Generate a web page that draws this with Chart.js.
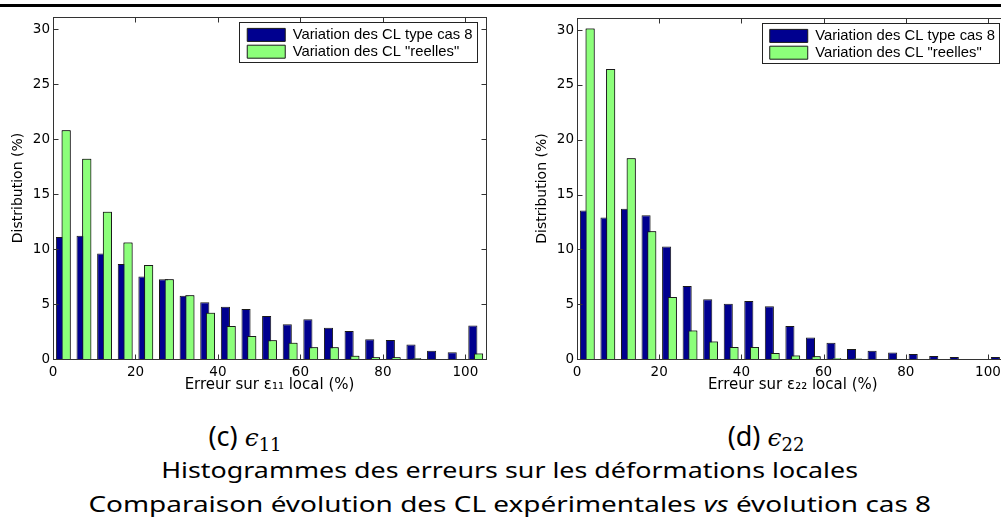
<!DOCTYPE html>
<html>
<head>
<meta charset="utf-8">
<script src="https://cdn.jsdelivr.net/npm/chart.js@4.4.0/dist/chart.umd.min.js"></script>
<style>
html,body{margin:0;padding:0;background:#fff;}
body{width:1001px;height:527px;overflow:hidden;position:relative;}
#rule{position:absolute;left:0;top:4px;width:1001px;height:3px;background:#000;}
.cw{position:absolute;top:0;width:500px;height:400px;}
#w1{left:0;}
#w2{left:524px;}
.sub{position:absolute;top:417px;height:40px;text-align:center;font-family:"Noto Sans";font-size:27px;color:#000;line-height:38px;white-space:nowrap;}
.m{font-family:"DejaVu Serif";font-style:italic;font-size:25px;}
.m sub{font-style:normal;font-family:"DejaVu Serif";font-size:18px;vertical-align:-5px;}
#titles{position:absolute;left:0;width:1001px;top:452px;text-align:center;font-family:"Noto Sans";font-size:22px;line-height:34px;color:#000;white-space:nowrap;padding-left:18px;box-sizing:border-box;}
#titles div{display:inline-block;transform-origin:50% 50%;}
#t1{transform:scaleX(1.22);}
#t2{transform:scaleX(1.27);}
</style>
</head>
<body>
<div id="rule"></div>
<div class="cw" id="w1"><canvas id="c1" width="500" height="400"></canvas></div>
<div class="cw" id="w2"><canvas id="c2" width="500" height="400"></canvas></div>
<div class="sub" style="left:0;width:490px;">(c) <span class="m">ϵ<sub>11</sub></span></div>
<div class="sub" style="left:531px;width:470px;">(d) <span class="m">ϵ<sub>22</sub></span></div>
<div id="titles"><div id="t1">Histogrammes des erreurs sur les déformations locales</div><br><div id="t2">Comparaison évolution des CL expérimentales <i>vs</i> évolution cas 8</div></div>
<script>
const binCenters = [2.5,7.5,12.5,17.5,22.5,27.5,32.5,37.5,42.5,47.5,52.5,57.5,62.5,67.5,72.5,77.5,82.5,87.5,92.5,97.5,102.5];
const seriesNames = ['Variation des CL type cas 8', 'Variation des CL "reelles"'];
const e11Cas8 = [11.1,11.2,9.6,8.65,7.5,7.25,5.75,5.15,4.75,4.55,3.9,3.15,3.62,2.85,2.55,1.8,1.72,1.32,0.75,0.62,3.05];
const e11Reel = [20.8,18.2,13.4,10.6,8.55,7.25,5.8,4.2,3.0,2.1,1.7,1.48,1.06,1.06,0.3,0.17,0.17,0.06,0,0,0.5];
const e22Cas8 = [13.55,12.9,13.7,13.1,10.25,6.65,5.45,5.05,5.3,4.8,3.0,1.97,1.48,0.92,0.75,0.6,0.45,0.27,0.18,0,0.18];
const e22Reel = [30.15,26.45,18.3,11.65,5.65,2.6,1.6,1.1,1.1,0.55,0.32,0.25,0.07,0.05,0,0,0,0,0,0,0];
const yTicksStep = 5;
const xTicksStep = 20;

function legendFrame(chart) {
  const lg = chart.legend;
  const hb = lg.legendHitBoxes || [];
  const pad = lg.options.labels.padding;
  const maxW = Math.max(...hb.map(h => h.width));
  const totalH = hb.reduce((s, h) => s + h.height, 0) + pad * (hb.length - 1);
  const itemLeft = lg.left + pad, itemTop = lg.top + pad;
  return {l: itemLeft - 8, r: itemLeft + maxW + 4, t: itemTop - 5.5, b: itemTop + totalH + 3};
}

const framePlugin = {
  id: 'frame',
  afterLayout(chart) {
    const lg = chart.legend;
    const a = chart.chartArea;
    const hb = lg.legendHitBoxes;
    const pad = lg.options.labels.padding;
    const maxW = Math.max(...hb.map(h => h.width));
    lg.left = a.right - 9.5 - 4 - maxW - pad;
    lg.top = a.top + 8.5;
  },
  afterDatasetsDraw(chart) {
    // green series drawn over the blue one, as in the original figure
    chart.getDatasetMeta(1).controller.draw();
  },
  afterDraw(chart) {
    const {ctx, chartArea: a, scales: {x, y}} = chart;
    ctx.save();
    ctx.strokeStyle = '#333';
    ctx.lineWidth = 1;
    const L = Math.round(a.left) + 0.5, R = Math.round(a.right) + 0.5;
    const T = Math.round(a.top) + 0.5, B = Math.round(a.bottom) + 0.5;
    ctx.strokeRect(L, T, R - L, B - T);
    const tl = 5;
    ctx.beginPath();
    x.ticks.forEach((t, i) => {
      const px = Math.round(x.getPixelForTick(i)) + 0.5;
      ctx.moveTo(px, B); ctx.lineTo(px, B - tl);
      ctx.moveTo(px, T); ctx.lineTo(px, T + tl);
    });
    y.ticks.forEach((t, i) => {
      const py = Math.round(y.getPixelForTick(i)) + 0.5;
      ctx.moveTo(L, py); ctx.lineTo(L + tl, py);
      ctx.moveTo(R, py); ctx.lineTo(R - tl, py);
    });
    ctx.stroke();
    const f = legendFrame(chart);
    const lx = Math.round(f.l) + 0.5, rx = Math.round(f.r) + 0.5;
    const ty = Math.round(f.t) + 0.5, by = Math.round(f.b) + 0.5;
    ctx.strokeStyle = '#222';
    ctx.strokeRect(lx, ty, rx - lx, by - ty);
    ctx.restore();
  }
};

function makeChart(id, cas8, reel, xTitle, padTop, padRight) {
  return new Chart(document.getElementById(id), {
    type: 'bar',
    data: {
      datasets: [
        {label: seriesNames[0], data: binCenters.map((c, i) => ({x: c, y: cas8[i]})),
         backgroundColor: '#00008F', borderColor: '#1a1a1a', borderWidth: 1,
         barPercentage: 1.6, categoryPercentage: 0.553},
        {label: seriesNames[1], data: binCenters.map((c, i) => ({x: c, y: reel[i]})),
         backgroundColor: '#8CFF7A', borderColor: '#1a1a1a', borderWidth: 1,
         barPercentage: 1.6, categoryPercentage: 0.553}
      ]
    },
    options: {
      responsive: false,
      animation: false,
      maintainAspectRatio: false,
      layout: {padding: {left: 0, right: padRight, top: padTop, bottom: 0}},
      plugins: {
        legend: {
          position: 'chartArea', align: 'start',
          labels: {boxWidth: 38, boxHeight: 13, padding: 2, color: '#000',
                   font: {family: 'Liberation Sans', size: 14.8}}
        },
        tooltip: {enabled: false}
      },
      scales: {
        x: {
          type: 'linear', min: 0, max: 105, offset: false,
          grid: {display: false, drawTicks: false, offset: false},
          border: {display: false},
          ticks: {stepSize: xTicksStep, includeBounds: false, padding: 5, color: '#000',
                  maxRotation: 0, autoSkip: false, font: {family: 'DejaVu Sans', size: 13.5}},
          title: {display: true, text: xTitle, color: '#000',
                  font: {family: 'DejaVu Sans', size: 15}, padding: {top: 0, bottom: 6}},
          afterFit(s) { s.height = 41; }
        },
        y: {
          min: 0, max: 31.1,
          grid: {display: false, drawTicks: false},
          border: {display: false},
          ticks: {stepSize: yTicksStep, includeBounds: false, padding: 3, color: '#000',
                  font: {family: 'DejaVu Sans', size: 13.5}},
          title: {display: true, text: 'Distribution (%)', color: '#000',
                  font: {family: 'DejaVu Sans', size: 14}, padding: {top: 10, bottom: 0}},
          afterFit(s) { s.width = 53; }
        }
      }
    },
    plugins: [framePlugin]
  });
}

makeChart('c1', e11Cas8, e11Reel, 'Erreur sur ε₁₁ local (%)', 17, 14);
makeChart('c2', e22Cas8, e22Reel, 'Erreur sur ε₂₂ local (%)', 18, 15.5);
</script>
</body>
</html>
